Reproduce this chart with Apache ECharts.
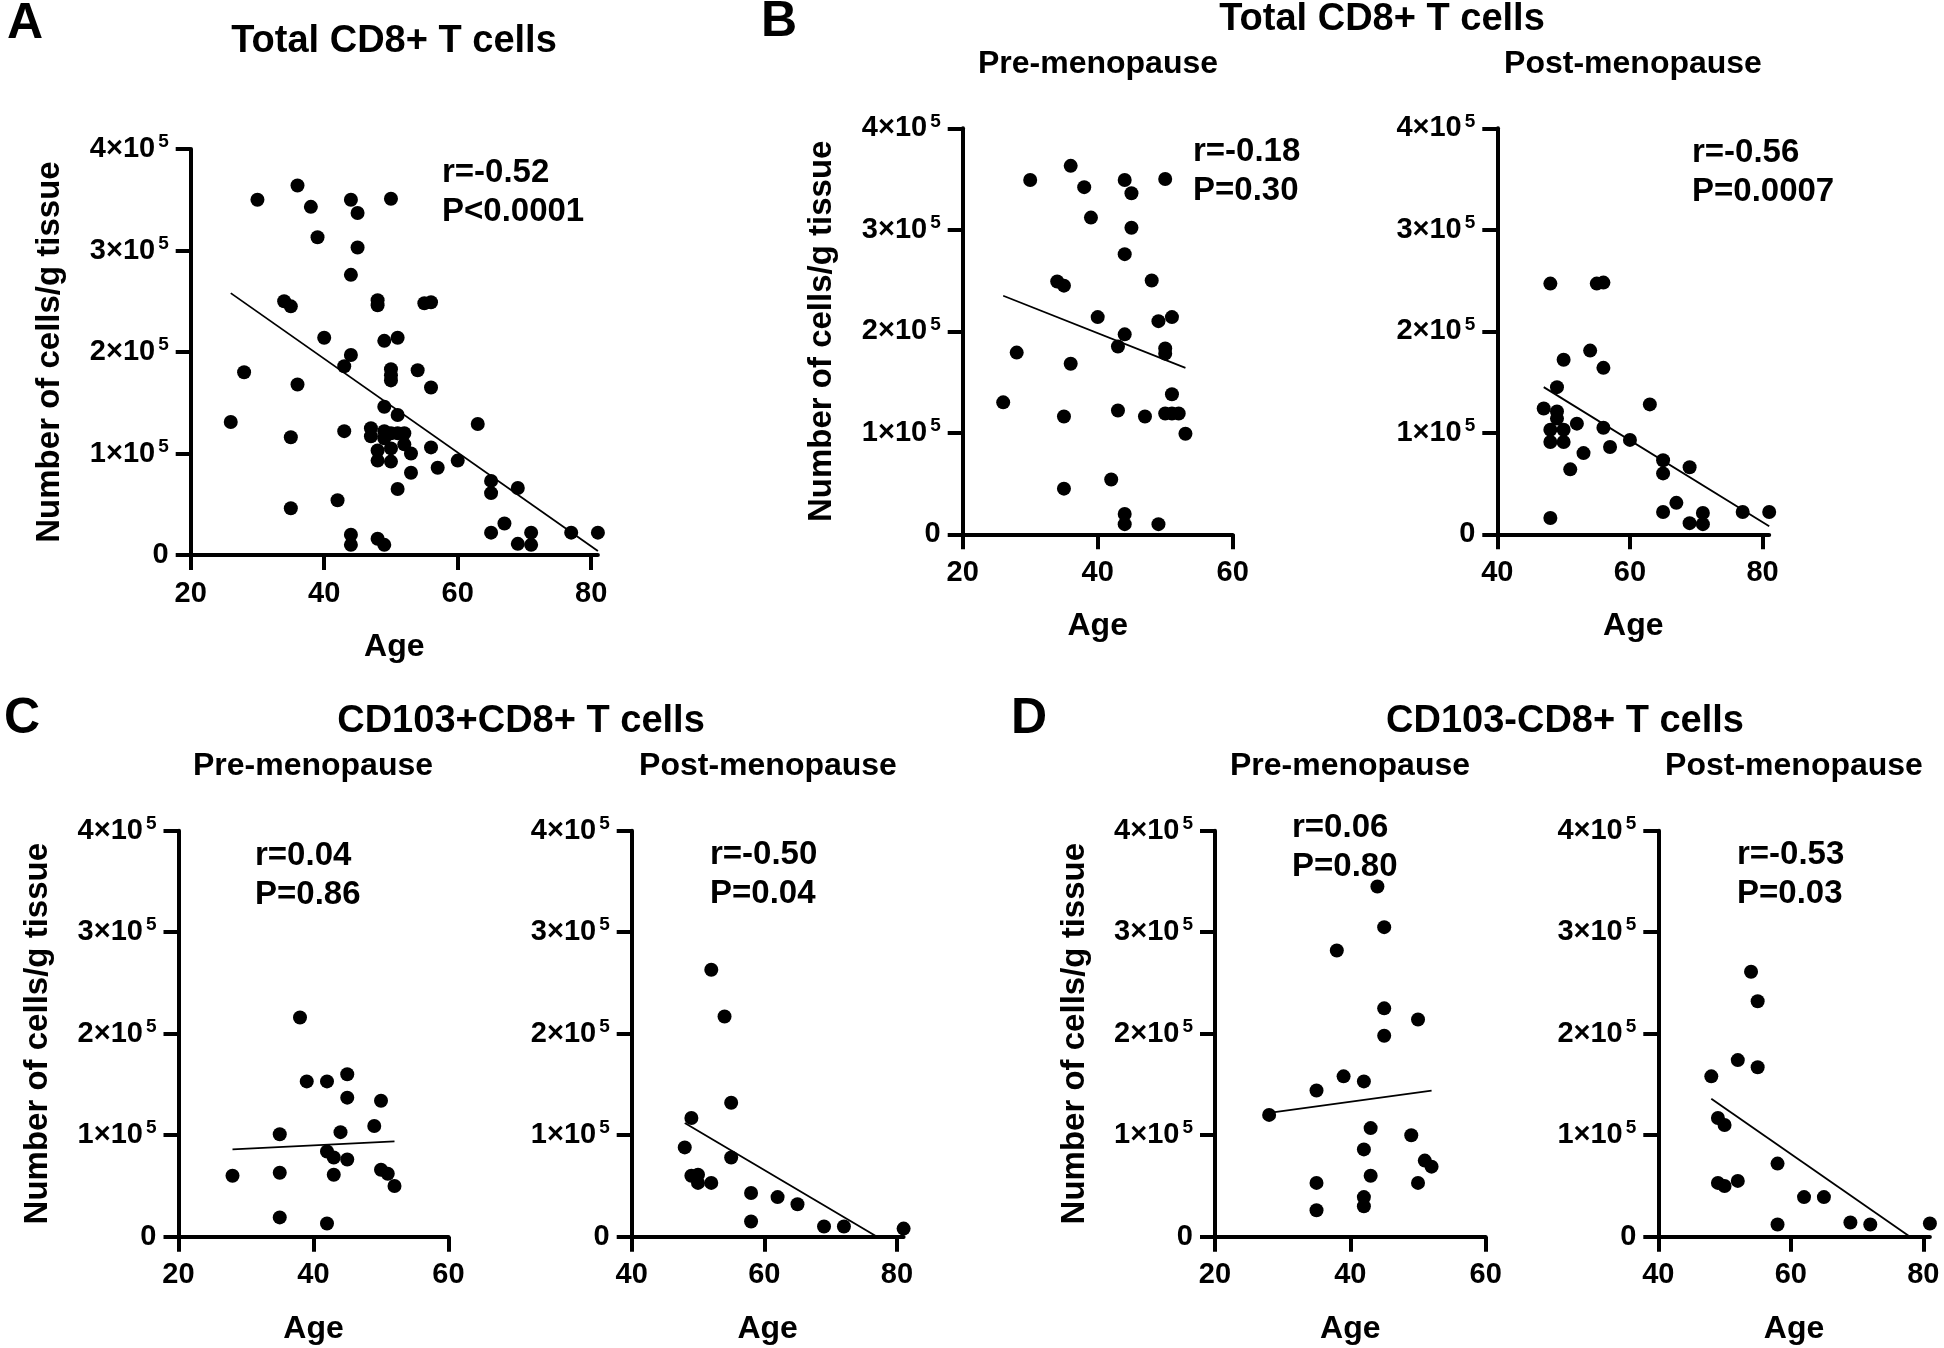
<!DOCTYPE html>
<html>
<head>
<meta charset="utf-8">
<script src="https://cdn.jsdelivr.net/npm/echarts@6/dist/echarts.min.js"></script>
<style>
  html, body { margin: 0; padding: 0; background: #fff; }
  #chart { width: 1944px; height: 1348px; }
</style>
</head>
<body>
<div id="chart"></div>
<script>
const FONT = '"Liberation Sans", Arial, Helvetica, sans-serif';

// A: total CD8+ T cells, all donors
const ageA = [30, 36, 38, 44, 45, 50, 39, 45, 44, 34, 35, 48, 48, 55, 56, 40, 51, 49, 44, 43,
  28, 50, 50, 50, 54, 36, 56, 49, 51, 26, 63, 35, 43, 47, 47, 49, 50, 51, 52, 49,
  52, 48, 50, 53, 56, 48, 50, 57, 60, 53, 51, 65, 65, 69, 42, 35, 44, 44, 48, 49,
  65, 67, 69, 71, 71, 77, 81];
const cellsA = [3.50e5, 3.64e5, 3.43e5, 3.50e5, 3.37e5, 3.51e5, 3.13e5, 3.03e5, 2.76e5, 2.50e5,
  2.45e5, 2.51e5, 2.46e5, 2.48e5, 2.49e5, 2.14e5, 2.14e5, 2.11e5, 1.97e5, 1.86e5,
  1.80e5, 1.83e5, 1.77e5, 1.72e5, 1.82e5, 1.68e5, 1.65e5, 1.46e5, 1.38e5, 1.31e5,
  1.29e5, 1.16e5, 1.22e5, 1.25e5, 1.17e5, 1.22e5, 1.20e5, 1.20e5, 1.20e5, 1.15e5,
  1.09e5, 1.03e5, 1.05e5, 1.00e5, 1.06e5, 0.93e5, 0.92e5, 0.86e5, 0.93e5, 0.81e5,
  0.65e5, 0.73e5, 0.61e5, 0.66e5, 0.54e5, 0.46e5, 0.20e5, 0.10e5, 0.16e5, 0.10e5,
  0.22e5, 0.31e5, 0.11e5, 0.22e5, 0.10e5, 0.22e5, 0.22e5];
const fitA = [[26, 2.58e5], [81, 0.04e5]];

// B: total CD8+ T cells, pre / post menopause
const ageBPre = [30, 36, 38, 44, 45, 50, 39, 45, 44, 34, 35, 48, 40, 49, 51, 44, 43, 28, 50, 50,
  36, 26, 51, 43, 35, 47, 50, 51, 52, 53, 35, 42, 44, 44, 49];
const cellsBPre = [3.49e5, 3.63e5, 3.42e5, 3.49e5, 3.36e5, 3.50e5, 3.12e5, 3.02e5, 2.76e5, 2.49e5,
  2.45e5, 2.50e5, 2.14e5, 2.10e5, 2.14e5, 1.97e5, 1.85e5, 1.79e5, 1.83e5, 1.78e5,
  1.68e5, 1.30e5, 1.38e5, 1.22e5, 1.16e5, 1.16e5, 1.19e5, 1.19e5, 1.19e5, 0.99e5,
  0.45e5, 0.54e5, 0.20e5, 0.10e5, 0.10e5];
const fitBPre = [[26, 2.35e5], [53, 1.64e5]];

const ageBPost = [48, 55, 56, 54, 50, 56, 49, 47, 49, 49, 48, 50, 52, 48, 50, 56, 57, 53, 60, 51,
  63, 65, 65, 69, 65, 67, 69, 71, 71, 77, 81, 48];
const cellsBPost = [2.47e5, 2.47e5, 2.48e5, 1.81e5, 1.72e5, 1.64e5, 1.45e5, 1.24e5, 1.21e5, 1.14e5,
  1.03e5, 1.03e5, 1.09e5, 0.91e5, 0.91e5, 1.05e5, 0.86e5, 0.80e5, 0.93e5, 0.64e5,
  1.28e5, 0.73e5, 0.60e5, 0.66e5, 0.22e5, 0.31e5, 0.11e5, 0.21e5, 0.10e5, 0.22e5,
  0.22e5, 0.16e5];
const fitBPost = [[47, 1.45e5], [81, 0.08e5]];

// C: CD103+CD8+ T cells
const ageCPre = [28, 35, 35, 35, 38, 39, 42, 42, 42, 43, 43, 44, 45, 45, 45, 49, 50, 50, 51, 52];
const cellsCPre = [0.60e5, 1.01e5, 0.63e5, 0.19e5, 2.16e5, 1.53e5, 1.53e5, 0.13e5, 0.84e5, 0.78e5,
  0.61e5, 1.03e5, 1.60e5, 1.37e5, 0.76e5, 1.09e5, 1.34e5, 0.66e5, 0.62e5, 0.50e5];
const fitCPre = [[28, 0.86e5], [52, 0.94e5]];

const ageCPost = [52, 54, 55, 49, 48, 55, 49, 50, 50, 52, 58, 62, 65, 58, 69, 72, 81];
const cellsCPost = [2.63e5, 2.17e5, 1.32e5, 1.17e5, 0.88e5, 0.78e5, 0.60e5, 0.61e5, 0.53e5, 0.53e5,
  0.43e5, 0.39e5, 0.32e5, 0.15e5, 0.10e5, 0.10e5, 0.08e5];
const fitCPost = [[48, 1.12e5], [77, 0]];

// D: CD103-CD8+ T cells
const ageDPre = [28, 35, 35, 35, 38, 39, 42, 42, 42, 42, 43, 43, 44, 45, 45, 45, 50, 49, 50, 51, 52];
const cellsDPre = [1.20e5, 1.44e5, 0.53e5, 0.26e5, 2.82e5, 1.58e5, 1.53e5, 0.86e5, 0.39e5, 0.30e5,
  1.07e5, 0.60e5, 3.45e5, 3.05e5, 2.25e5, 1.98e5, 2.14e5, 1.00e5, 0.53e5, 0.75e5, 0.69e5];
const fitDPre = [[28, 1.22e5], [52, 1.44e5]];

const ageDPost = [54, 55, 52, 55, 48, 49, 50, 49, 50, 52, 58, 62, 65, 58, 69, 72, 81];
const cellsDPost = [2.61e5, 2.32e5, 1.74e5, 1.67e5, 1.58e5, 1.17e5, 1.10e5, 0.53e5, 0.50e5, 0.55e5,
  0.72e5, 0.39e5, 0.39e5, 0.12e5, 0.14e5, 0.12e5, 0.13e5];
const fitDPost = [[48, 1.36e5], [78, 0]];

const preTicks = [20, 40, 60];
const postTicks = [40, 60, 80];

// one entry per scatter panel
const panels = [
  { age: ageA, cells: cellsA, fit: fitA, xMin: 20, xMax: 81, ticks: [20, 40, 60, 80],
    grid: { left: 190.7, top: 149, width: 407.2, height: 406 }, yName: true,
    stats: ['r=-0.52', 'P<0.0001'], statPos: [442, 173] },
  { age: ageBPre, cells: cellsBPre, fit: fitBPre, xMin: 20, xMax: 60, ticks: preTicks,
    grid: { left: 962.7, top: 128.3, width: 270, height: 406 }, yName: true,
    stats: ['r=-0.18', 'P=0.30'], statPos: [1193, 152] },
  { age: ageBPost, cells: cellsBPost, fit: fitBPost, xMin: 40, xMax: 81, ticks: postTicks,
    grid: { left: 1497.3, top: 128.3, width: 271.9, height: 406 }, yName: false,
    stats: ['r=-0.56', 'P=0.0007'], statPos: [1692, 153] },
  { age: ageCPre, cells: cellsCPre, fit: fitCPre, xMin: 20, xMax: 60, ticks: preTicks,
    grid: { left: 178.5, top: 830.7, width: 270, height: 406 }, yName: true,
    stats: ['r=0.04', 'P=0.86'], statPos: [255, 856] },
  { age: ageCPost, cells: cellsCPost, fit: fitCPost, xMin: 40, xMax: 81, ticks: postTicks,
    grid: { left: 631.7, top: 830.7, width: 271.9, height: 406 }, yName: false,
    stats: ['r=-0.50', 'P=0.04'], statPos: [710, 855] },
  { age: ageDPre, cells: cellsDPre, fit: fitDPre, xMin: 20, xMax: 60, ticks: preTicks,
    grid: { left: 1215, top: 830.7, width: 270.7, height: 406 }, yName: true,
    stats: ['r=0.06', 'P=0.80'], statPos: [1292, 828] },
  { age: ageDPost, cells: cellsDPost, fit: fitDPost, xMin: 40, xMax: 81, ticks: postTicks,
    grid: { left: 1658.3, top: 830.7, width: 271.6, height: 406 }, yName: false,
    stats: ['r=-0.53', 'P=0.03'], statPos: [1737, 855] }
];

const headings = [
  { text: 'A', x: 25, y: 24, size: 50 },
  { text: 'B', x: 779, y: 22, size: 50 },
  { text: 'C', x: 22, y: 719, size: 50 },
  { text: 'D', x: 1029, y: 719, size: 50 },
  { text: 'Total CD8+ T cells', x: 394, y: 42, size: 38 },
  { text: 'Total CD8+ T cells', x: 1382, y: 20, size: 38 },
  { text: 'Pre-menopause', x: 1098, y: 64, size: 32 },
  { text: 'Post-menopause', x: 1633, y: 64, size: 32 },
  { text: 'CD103+CD8+ T cells', x: 521, y: 722, size: 38 },
  { text: 'Pre-menopause', x: 313, y: 766, size: 32 },
  { text: 'Post-menopause', x: 768, y: 766, size: 32 },
  { text: 'CD103-CD8+ T cells', x: 1565, y: 722, size: 38 },
  { text: 'Pre-menopause', x: 1350, y: 766, size: 32 },
  { text: 'Post-menopause', x: 1794, y: 766, size: 32 }
];

const AXIS_W = 4;
const grids = [], xAxes = [], yAxes = [], series = [], graphics = [];

panels.forEach((p, i) => {
  grids.push(Object.assign({ outerBoundsMode: 'none', containLabel: false }, p.grid));
  xAxes.push({
    type: 'value', gridIndex: i, min: p.xMin, max: p.xMax,
    name: 'Age', nameLocation: 'middle', nameGap: 76,
    nameTextStyle: { fontFamily: FONT, fontWeight: 'bold', fontSize: 32, color: '#000' },
    axisLine: { lineStyle: { color: '#000', width: AXIS_W } },
    axisTick: { length: 15, customValues: p.ticks, lineStyle: { color: '#000', width: AXIS_W } },
    axisLabel: { customValues: p.ticks, margin: 24, fontFamily: FONT, fontWeight: 'bold', fontSize: 29, color: '#000' },
    splitLine: { show: false }
  });
  yAxes.push({
    type: 'value', gridIndex: i, min: 0, max: 4e5, interval: 1e5,
    name: p.yName ? 'Number of cells/g tissue' : '', nameLocation: 'middle', nameGap: 124, nameRotate: 90,
    nameTextStyle: { fontFamily: FONT, fontWeight: 'bold', fontSize: 33, color: '#000' },
    axisLine: { show: true, lineStyle: { color: '#000', width: AXIS_W } },
    axisTick: { show: true, length: 15, lineStyle: { color: '#000', width: AXIS_W } },
    axisLabel: {
      margin: 22,
      formatter: v => v === 0 ? '{m|0}' : '{m|' + (v / 1e5) + '×10}{s|5}',
      rich: {
        m: { fontFamily: FONT, fontWeight: 'bold', fontSize: 29, color: '#000' },
        s: { fontFamily: FONT, fontWeight: 'bold', fontSize: 19, color: '#000', padding: [0, 0, 14, 3] }
      }
    },
    splitLine: { show: false }
  });
  series.push({
    type: 'scatter', xAxisIndex: i, yAxisIndex: i,
    symbolSize: 14, itemStyle: { color: '#000', opacity: 1 },
    data: p.age.map((a, k) => [a, p.cells[k]])
  });
  series.push({
    type: 'line', xAxisIndex: i, yAxisIndex: i,
    showSymbol: false, symbol: 'none', lineStyle: { color: '#000', width: 1.8 },
    data: p.fit
  });
  p.stats.forEach((s, k) => {
    graphics.push({
      type: 'text', x: p.statPos[0], y: p.statPos[1] + k * 39,
      style: { text: s, fill: '#000', font: 'bold 33px ' + FONT, align: 'left', verticalAlign: 'middle' }
    });
  });
});

headings.forEach(h => {
  graphics.push({
    type: 'text', x: h.x, y: h.y,
    style: { text: h.text, fill: '#000', font: 'bold ' + h.size + 'px ' + FONT, align: 'center', verticalAlign: 'middle' }
  });
});

const chart = echarts.init(document.getElementById('chart'), null, { renderer: 'canvas' });
chart.setOption({
  animation: false,
  backgroundColor: '#fff',
  grid: grids,
  xAxis: xAxes,
  yAxis: yAxes,
  series: series,
  graphic: graphics
});
</script>
</body>
</html>
